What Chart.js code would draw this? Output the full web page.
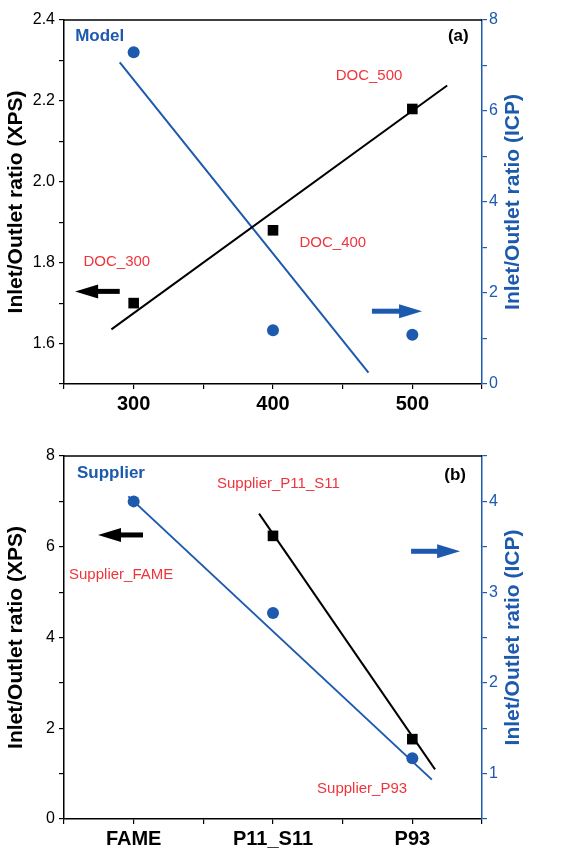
<!DOCTYPE html>
<html>
<head>
<meta charset="utf-8">
<script src="https://cdn.jsdelivr.net/npm/chart.js@4.4.1/dist/chart.umd.min.js"></script>
<style>
  html, body { margin: 0; padding: 0; background: #fff; }
  .panel { position: absolute; left: 0; width: 561px; }
  #top { top: 0; height: 420px; }
  #bottom { top: 420px; height: 430px; }
</style>
</head>
<body>
<div class="panel" id="top"><canvas id="chartA"></canvas></div>
<div class="panel" id="bottom"><canvas id="chartB"></canvas></div>
<script>
// panel (a): DOC temperature
const docTemps = [300, 400, 500];
const xpsModel = [1.70, 1.88, 2.18];
const icpModel = [7.29, 1.18, 1.08];
const xpsModelFitX = [284, 525];
const xpsModelFitY = [1.635, 2.238];
const icpModelFitX = [290, 468.5];
const icpModelFitY = [7.07, 0.25];
const docTickLabels = [300, 400, 500];

// panel (b): supplier
const suppliers = ['FAME', 'P11_S11', 'P93'];
const xpsSupplier = [null, 6.24, 1.76];
const icpSupplier = [4.0, 2.77, 1.17];
const xpsSupplierFitX = [0.9, 2.163];
const xpsSupplierFitY = [6.73, 1.095];
const icpSupplierFitX = [-0.038, 2.14];
const icpSupplierFitY = [4.055, 0.934];

const FONT = "'Liberation Sans', Arial, sans-serif";
const BLUE = '#1d59ad';
const RED = '#f0343c';
const RIGHT_TITLE = 'Inlet/Outlet ratio (ICP)';

const toPoints = (xs, ys) => xs.map((x, i) => ({ x: x, y: ys[i] })).filter(p => p.y !== null);

// text labels, arrows, top frame line and the right axis title (reads bottom-to-top)
function notesPlugin(texts, arrows) {
  return {
    id: 'notes',
    afterDatasetsDraw(chart) {
      const { ctx, chartArea, scales } = chart;
      const xs = scales.x, ys = scales.y;
      ctx.save();
      ctx.strokeStyle = '#000';
      ctx.lineWidth = 1.5;
      ctx.beginPath();
      ctx.moveTo(chartArea.left, chartArea.top);
      ctx.lineTo(chartArea.right, chartArea.top);
      ctx.stroke();

      texts.forEach(t => {
        ctx.font = (t.bold ? 'bold ' : '') + t.size + 'px ' + FONT;
        ctx.fillStyle = t.color;
        ctx.textAlign = t.align || 'left';
        ctx.textBaseline = 'middle';
        ctx.fillText(t.text, xs.getPixelForValue(t.x), ys.getPixelForValue(t.y));
      });

      arrows.forEach(a => {
        const x0 = xs.getPixelForValue(a.from);
        const x1 = xs.getPixelForValue(a.to);
        const y = ys.getPixelForValue(a.y);
        const dir = Math.sign(x1 - x0), head = 23, half = 7;
        ctx.fillStyle = a.color;
        ctx.strokeStyle = a.color;
        ctx.lineWidth = 5;
        ctx.beginPath();
        ctx.moveTo(x0, y);
        ctx.lineTo(x1 - dir * (head - 2), y);
        ctx.stroke();
        ctx.beginPath();
        ctx.moveTo(x1, y);
        ctx.lineTo(x1 - dir * head, y - half);
        ctx.lineTo(x1 - dir * head, y + half);
        ctx.closePath();
        ctx.fill();
      });

      ctx.translate(chartArea.right + 31, (chartArea.top + chartArea.bottom) / 2);
      ctx.rotate(-Math.PI / 2);
      ctx.font = 'bold 21px ' + FONT;
      ctx.fillStyle = BLUE;
      ctx.textAlign = 'center';
      ctx.textBaseline = 'middle';
      ctx.fillText(RIGHT_TITLE, 0, 0);
      ctx.restore();
    }
  };
}

function axis(color, opts) {
  return Object.assign({
    type: 'linear',
    grid: { drawOnChartArea: false, drawTicks: true, tickLength: 5, color: color, lineWidth: 1.2 },
    border: { display: true, color: color, width: 1.5 },
    ticks: { color: color, autoSkip: false, font: { family: FONT, size: 16 } }
  }, opts);
}

function titleOf(text, color) {
  return { display: true, text: text, color: color, font: { family: FONT, size: 21, weight: 'bold' }, padding: 4 };
}

function baseOptions(padTop) {
  return {
    responsive: true,
    maintainAspectRatio: false,
    animation: false,
    layout: { padding: { top: padTop, left: 0, right: 30, bottom: 0 } },
    plugins: { legend: { display: false }, tooltip: { enabled: false } },
    scales: {}
  };
}

// ---- panel (a)
const optsA = baseOptions(20);
optsA.scales.x = axis('#000', {
  min: 250, max: 550,
  afterFit: s => { s.height = 36; },
  ticks: { color: '#000', autoSkip: false, stepSize: 50, padding: 3, maxRotation: 0,
    font: { family: FONT, size: 20, weight: 'bold' },
    callback: v => docTickLabels.includes(v) ? String(v) : '' }
});
optsA.scales.y = axis('#000', {
  position: 'left', min: 1.5, max: 2.4,
  afterFit: s => { s.width = 64; },
  title: titleOf('Inlet/Outlet ratio (XPS)', '#000'),
  ticks: { color: '#000', autoSkip: false, stepSize: 0.1, padding: 4,
    font: { family: FONT, size: 16 },
    callback: v => Math.round(v * 10) % 2 === 0 ? v.toFixed(1) : '' }
});
optsA.scales.y2 = axis(BLUE, {
  position: 'right', min: 0, max: 8,
  afterFit: s => { s.width = 49; },
  ticks: { color: BLUE, autoSkip: false, stepSize: 1, padding: 2,
    font: { family: FONT, size: 16 },
    callback: v => v % 2 === 0 ? String(v) : '' }
});

new Chart(document.getElementById('chartA'), {
  type: 'scatter',
  data: {
    datasets: [
      { data: toPoints(xpsModelFitX, xpsModelFitY), yAxisID: 'y', showLine: true,
        borderColor: '#000', borderWidth: 2, pointRadius: 0 },
      { data: toPoints(icpModelFitX, icpModelFitY), yAxisID: 'y2', showLine: true,
        borderColor: BLUE, borderWidth: 2, pointRadius: 0 },
      { data: toPoints(docTemps, xpsModel), yAxisID: 'y', pointStyle: 'rect',
        pointRadius: 7.5, backgroundColor: '#000', borderColor: '#000', borderWidth: 0 },
      { data: toPoints(docTemps, icpModel), yAxisID: 'y2', pointStyle: 'circle',
        pointRadius: 6, backgroundColor: BLUE, borderColor: BLUE, borderWidth: 0 }
    ]
  },
  options: optsA,
  plugins: [notesPlugin([
    { text: 'Model', x: 258, y: 2.36, size: 17, bold: true, color: BLUE },
    { text: '(a)', x: 533, y: 2.36, size: 17, bold: true, color: '#000', align: 'center' },
    { text: 'DOC_500', x: 445, y: 2.261, size: 15, color: RED },
    { text: 'DOC_400', x: 419, y: 1.85, size: 15, color: RED },
    { text: 'DOC_300', x: 264, y: 1.803, size: 15, color: RED }
  ], [
    { from: 290, to: 258, y: 1.729, color: '#000' },
    { from: 471, to: 507, y: 1.68, color: BLUE }
  ])]
});

// ---- panel (b)
const optsB = baseOptions(36);
optsB.scales.x = axis('#000', {
  min: -0.5, max: 2.5,
  afterFit: s => { s.height = 31; },
  ticks: { color: '#000', autoSkip: false, stepSize: 0.5, padding: 3, maxRotation: 0,
    font: { family: FONT, size: 20, weight: 'bold' },
    callback: v => Number.isInteger(v) && suppliers[v] ? suppliers[v] : '' }
});
optsB.scales.y = axis('#000', {
  position: 'left', min: 0, max: 8,
  afterFit: s => { s.width = 64; },
  title: titleOf('Inlet/Outlet ratio (XPS)', '#000'),
  ticks: { color: '#000', autoSkip: false, stepSize: 1, padding: 4,
    font: { family: FONT, size: 16 },
    callback: v => v % 2 === 0 ? String(v) : '' }
});
optsB.scales.y2 = axis(BLUE, {
  position: 'right', min: 0.5, max: 4.5,
  afterFit: s => { s.width = 49; },
  ticks: { color: BLUE, autoSkip: false, stepSize: 0.5, padding: 2,
    font: { family: FONT, size: 16 },
    callback: v => Number.isInteger(v) ? String(v) : '' }
});

const supplierIdx = suppliers.map((s, i) => i);

new Chart(document.getElementById('chartB'), {
  type: 'scatter',
  data: {
    datasets: [
      { data: toPoints(xpsSupplierFitX, xpsSupplierFitY), yAxisID: 'y', showLine: true,
        borderColor: '#000', borderWidth: 2, pointRadius: 0 },
      { data: toPoints(icpSupplierFitX, icpSupplierFitY), yAxisID: 'y2', showLine: true,
        borderColor: BLUE, borderWidth: 2, pointRadius: 0 },
      { data: toPoints(supplierIdx, xpsSupplier), yAxisID: 'y', pointStyle: 'rect',
        pointRadius: 7.5, backgroundColor: '#000', borderColor: '#000', borderWidth: 0 },
      { data: toPoints(supplierIdx, icpSupplier), yAxisID: 'y2', pointStyle: 'circle',
        pointRadius: 6, backgroundColor: BLUE, borderColor: BLUE, borderWidth: 0 }
    ]
  },
  options: optsB,
  plugins: [notesPlugin([
    { text: 'Supplier', x: -0.407, y: 7.62, size: 17, bold: true, color: BLUE },
    { text: '(b)', x: 2.307, y: 7.58, size: 17, bold: true, color: '#000', align: 'center' },
    { text: 'Supplier_P11_S11', x: 0.598, y: 7.38, size: 15, color: RED },
    { text: 'Supplier_FAME', x: -0.464, y: 5.37, size: 15, color: RED },
    { text: 'Supplier_P93', x: 1.316, y: 0.66, size: 15, color: RED }
  ], [
    { from: 0.067, to: -0.256, y: 6.26, color: '#000' },
    { from: 1.991, to: 2.343, y: 5.9, color: BLUE }
  ])]
});
</script>
</body>
</html>
